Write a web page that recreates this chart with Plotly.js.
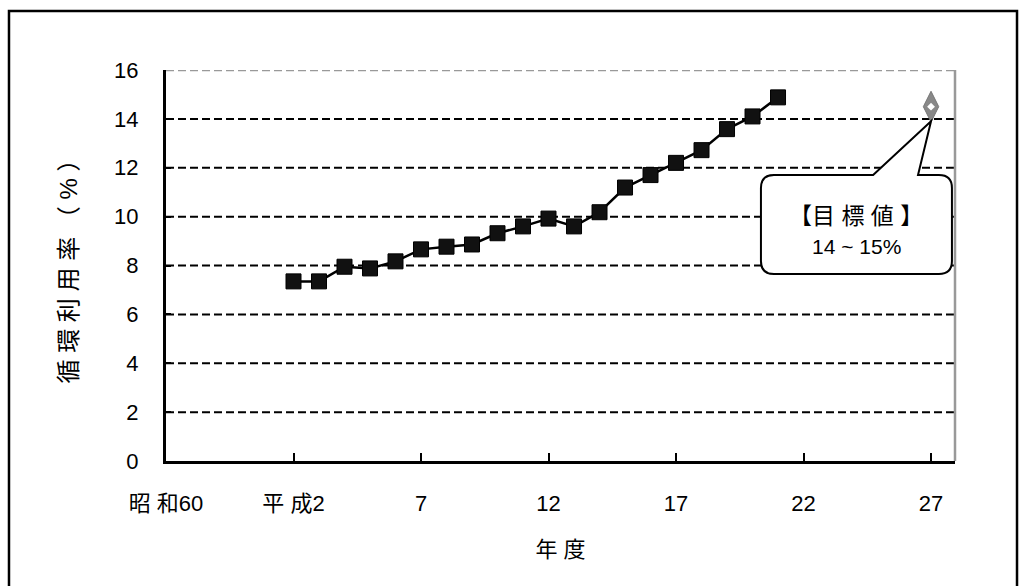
<!DOCTYPE html>
<html>
<head>
<meta charset="utf-8">
<script src="https://cdn.plot.ly/plotly-3.0.1.min.js"></script>
<style>
html,body{margin:0;padding:0;background:#fff;}
#chart{width:1026px;height:586px;}
</style>
</head>
<body>
<div id="chart"></div>
<script>
// ---- data ----
const years = [1990,1991,1992,1993,1994,1995,1996,1997,1998,1999,2000,2001,2002,2003,2004,2005,2006,2007,2008,2009];
const rates = [7.35,7.35,7.95,7.88,8.17,8.66,8.77,8.86,9.32,9.6,9.92,9.6,10.18,11.19,11.7,12.2,12.72,13.58,14.1,14.88];
const targetYear = 2015;
const targetLow = 14;
const targetHigh = 15;
const tickYears = [1985,1990,1995,2000,2005,2010,2015];
const tickLabels = ['昭 和60','平 成2','7','12','17','22','27'];
const gridValues = [2,4,6,8,10,12,14];
const topValue = 16;

const FONT = '"Liberation Sans", Arial, "Noto Sans CJK JP", sans-serif';

const traces = [
  {
    x: years, y: rates, type: 'scatter', mode: 'lines+markers',
    line: {color: '#000', width: 2.5},
    marker: {symbol: 'square', size: 15, color: '#111', line: {color: '#000', width: 1}},
    hoverinfo: 'x+y', showlegend: false
  },
  {
    x: [targetYear], y: [(targetLow + targetHigh) / 2], type: 'scatter', mode: 'markers',
    marker: {symbol: 'diamond-tall', size: 22, color: '#888', line: {color: '#777', width: 1}},
    showlegend: false, hoverinfo: 'skip'
  },
  {
    x: [targetYear], y: [(targetLow + targetHigh) / 2], type: 'scatter', mode: 'markers',
    marker: {symbol: 'diamond', size: 6, color: '#fff', line: {width: 0}},
    showlegend: false, hoverinfo: 'skip'
  }
];

const shapes = [];
gridValues.forEach(v => shapes.push({
  type: 'line', xref: 'paper', yref: 'y', x0: 0, x1: 1, y0: v, y1: v,
  line: {color: '#000', width: 2, dash: '8px,4px'}, layer: 'below'
}));
shapes.push({type: 'line', xref: 'paper', yref: 'y', x0: 0, x1: 1, y0: topValue, y1: topValue,
  line: {color: '#999', width: 2.5, dash: '8px,4px'}, layer: 'below'});
shapes.push({type: 'line', xref: 'paper', yref: 'paper', x0: 1, x1: 1, y0: 0, y1: 1,
  line: {color: '#999', width: 2.5}, layer: 'below'});
// outer frame
shapes.push({type: 'rect', xref: 'paper', yref: 'paper', x0: -0.199, x1: 1.0786, y0: -0.35, y1: 1.1509,
  line: {color: '#000', width: 2.5}, fillcolor: 'rgba(0,0,0,0)', layer: 'below'});
// callout bubble
shapes.push({
  type: 'path', xref: 'x', yref: 'y', layer: 'above',
  path: 'M 2008.84,11.70 L 2012.73,11.70 L 2015,13.9 L 2014.49,11.70 L 2015.31,11.70 ' +
        'Q 2015.82,11.70 2015.82,11.17 L 2015.82,8.18 Q 2015.82,7.65 2015.31,7.65 ' +
        'L 2008.84,7.65 Q 2008.33,7.65 2008.33,8.18 L 2008.33,11.17 Q 2008.33,11.70 2008.84,11.70 Z',
  fillcolor: '#fff', line: {color: '#000', width: 2}
});

const layout = {
  width: 1026, height: 586,
  margin: {l: 166, r: 71, t: 70, b: 125},
  paper_bgcolor: '#fff', plot_bgcolor: '#fff',
  font: {family: FONT, size: 22, color: '#000'},
  showlegend: false,
  xaxis: {
    range: [1985, 2015.94],
    tickvals: tickYears, ticktext: tickLabels,
    ticks: 'inside', ticklen: 8, tickwidth: 2, tickcolor: '#000',
    showline: true, linecolor: '#000', linewidth: 3,
    showgrid: false, zeroline: false,
    ticklabelstandoff: 21,
    tickfont: {family: FONT, size: 22, color: '#000'},
    title: {text: '年 度', font: {family: FONT, size: 22, color: '#000'}, standoff: 27}
  },
  yaxis: {
    range: [0, 16], dtick: 2, tick0: 0,
    ticks: 'inside', ticklen: 5, tickwidth: 2, tickcolor: '#000',
    showline: true, linecolor: '#000', linewidth: 3,
    showgrid: false, zeroline: false,
    ticklabelstandoff: 20,
    tickfont: {family: FONT, size: 22, color: '#000'},
    title: {text: '循 環 利 用 率 （ % ）', font: {family: FONT, size: 24, color: '#000'}, standoff: 30}
  },
  shapes: shapes,
  annotations: [
    {xref: 'x', yref: 'y', x: 2012.06, y: 10.03, text: '【目 標 値 】', showarrow: false,
     font: {family: FONT, size: 23, color: '#000'}, xanchor: 'center', yanchor: 'middle'},
    {xref: 'x', yref: 'y', x: 2012.06, y: 8.76, text: '14 ~ 15%', showarrow: false,
     font: {family: FONT, size: 21, color: '#000'}, xanchor: 'center', yanchor: 'middle'}
  ]
};

Plotly.newPlot('chart', traces, layout, {displayModeBar: false, staticPlot: true});
</script>
</body>
</html>
